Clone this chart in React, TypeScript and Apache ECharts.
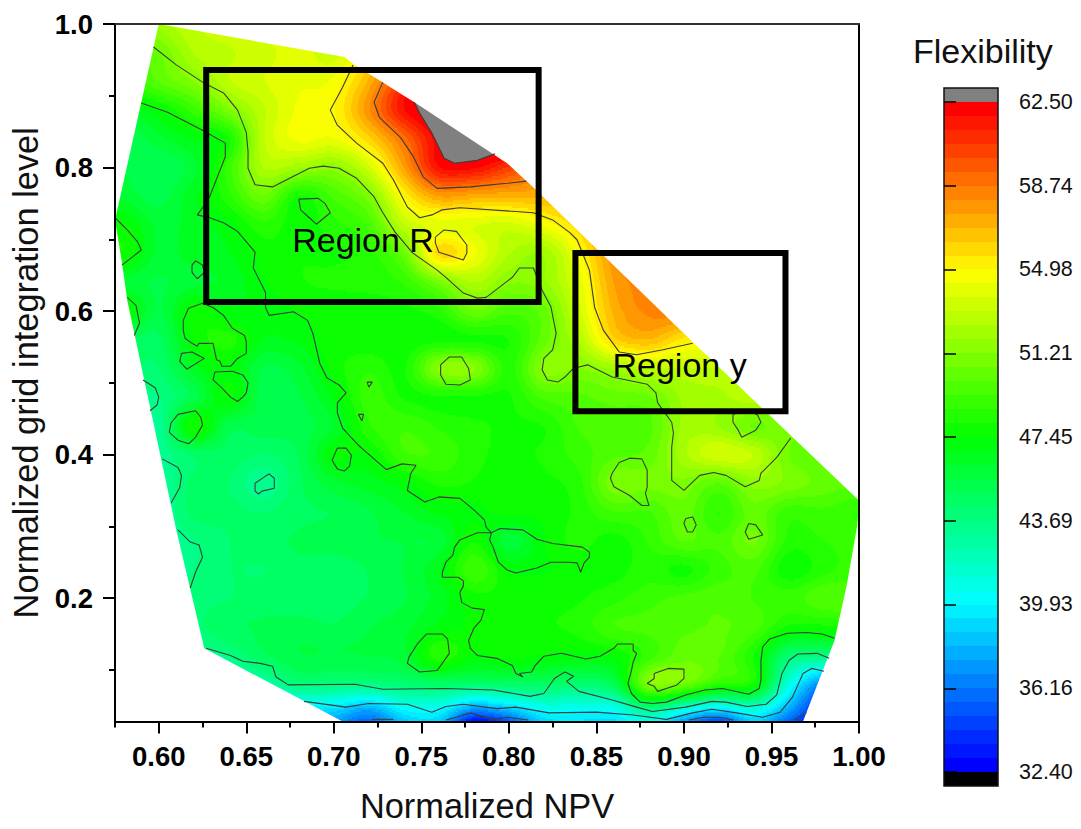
import React, { useEffect, useRef } from "react";
import * as echarts from "echarts";

const FONT = "'Liberation Sans', Arial, sans-serif";
const gridX = [0.58, 0.6, 0.62, 0.64, 0.66, 0.68, 0.7, 0.72, 0.74, 0.76, 0.78, 0.8, 0.82, 0.84, 0.86, 0.88, 0.9, 0.92, 0.94, 0.96, 0.98, 1.0];
const gridY = [1.0, 0.96, 0.92, 0.88, 0.84, 0.8, 0.76, 0.72, 0.68, 0.64, 0.6, 0.56, 0.52, 0.48, 0.44, 0.4, 0.36, 0.32, 0.28, 0.24, 0.2, 0.16, 0.12, 0.08, 0.04, 0.0];
const flexibility = [
  [50, 52, 53, 53.5, 54, 54, 54, 54, 56, 60, 63, 63, 63, 63, 60, 60, 58, 55, 52, 52, 52, 52],
  [49.5, 50.5, 52.5, 53, 53.5, 54, 53.5, 55.5, 59, 62, 63, 63, 63, 63, 60, 60, 58, 55, 52, 52, 52, 52],
  [48.5, 50, 51.2, 53, 53.7, 54.2, 54.5, 57, 61, 64, 64, 64, 63, 63, 60, 60, 58, 55, 52, 52, 52, 52],
  [46.5, 47.4, 49, 51, 53, 54.5, 54.9, 58, 61.8, 63.5, 64, 64, 63, 63, 60, 60, 58, 55, 52, 52, 52, 52],
  [45, 46, 47, 48, 53, 54.5, 54.3, 56, 59, 62.4, 64, 64, 63, 60, 60, 60, 58, 55, 52, 52, 52, 52],
  [45.5, 45, 46, 49, 52.5, 52, 51.5, 53.5, 57.5, 61.8, 62, 60.5, 59, 58, 58, 58, 58, 56, 54, 52, 50, 50],
  [46, 45.3, 46.7, 48.5, 50.5, 48, 49.5, 51, 55, 57.5, 57.2, 57, 57, 57, 58, 58, 58, 56, 54, 52, 50, 50],
  [47.6, 46, 46.5, 47.2, 48.5, 47.7, 48.5, 49.5, 53, 54, 53.8, 53.5, 54.5, 56, 58, 58, 58, 56, 54, 52, 50, 50],
  [48, 46, 46.5, 46.8, 47.8, 48, 48, 48.5, 50.5, 55.8, 54.5, 52.5, 52, 54.7, 58, 59, 59, 57, 55, 52, 50, 50],
  [46, 45.5, 46, 46.4, 47.4, 48, 48.2, 48.3, 48.8, 50.8, 52.5, 51.3, 51.7, 54, 57.5, 58.5, 59, 57, 55, 52, 50, 50],
  [47.8, 45.5, 47.8, 47, 47, 47.5, 47.6, 47.7, 47.9, 48.5, 50.5, 49.5, 50.3, 53.5, 57, 58.3, 58.5, 58, 55, 52, 50, 50],
  [45, 44.8, 47.5, 48.3, 46.8, 47, 47.8, 47.6, 47.7, 47.9, 48, 48.1, 50.3, 52.5, 56, 56.8, 55.4, 55, 54, 52, 50, 50],
  [44.5, 44.3, 46.5, 47.3, 45.5, 46, 47.7, 48.6, 48, 51.3, 51.3, 48.5, 51.4, 51.2, 52, 53, 53, 53, 52, 52, 50, 50],
  [43.5, 43.7, 45.3, 47.5, 45.3, 45.5, 47, 49, 48, 48, 48, 48, 49.5, 49.8, 50.3, 50.5, 52, 52.3, 52.8, 52, 50, 50],
  [43, 43.2, 48, 45.3, 45.3, 45.3, 46.2, 48.6, 49.2, 48.6, 48.2, 48, 48.1, 49.4, 49.5, 49.8, 52, 51.8, 50.5, 51, 50, 50],
  [43, 43.3, 44.5, 44.7, 44.3, 45, 47.4, 47.4, 49.2, 49.2, 48.3, 47.9, 48.2, 49, 49.8, 50.2, 52.3, 53.6, 53, 50.6, 50, 50],
  [43, 43, 44.5, 44.3, 43.2, 44.8, 46, 46.5, 47.2, 48.2, 48, 47.6, 47.9, 48.5, 51, 50.8, 51, 50, 51.5, 51, 50.3, 50],
  [43, 43, 44.5, 44.5, 44.3, 44.8, 45, 45.5, 46.2, 47, 47.3, 47.6, 47.6, 48.3, 49.3, 49.3, 50.3, 48.7, 50.3, 49, 49.2, 48.7],
  [43, 43, 43.7, 44.3, 44.8, 45, 45.3, 45.5, 45.6, 45.8, 48, 45.8, 47.4, 48.3, 47.8, 48.8, 50, 49.5, 50.7, 48.5, 48.7, 49],
  [43, 43, 43.7, 44.3, 44.3, 44.8, 44.5, 45, 45.6, 46.8, 49.2, 47.4, 47.4, 47.7, 47.8, 48.4, 47.9, 49, 49.5, 47.6, 48.5, 49],
  [43, 43, 44, 44.3, 44.7, 44.5, 44.6, 45, 45.5, 46.5, 47.8, 47.9, 47.8, 48, 48.5, 49.1, 49.5, 49.8, 49.3, 49, 49.8, 49.8],
  [43, 43, 44, 44.8, 45, 45.2, 45, 45.5, 46, 47, 47.6, 48, 48, 48.3, 49.3, 49.5, 49.8, 50, 49.6, 47.9, 47.9, 48],
  [43, 43, 43, 43.7, 44.8, 45.5, 45.5, 45.6, 46, 48.5, 47.3, 47.7, 47.4, 47.2, 47.5, 49, 50.3, 50, 48, 44.2, 43.8, 43],
  [40, 40, 40, 41.5, 42.5, 43.9, 43.8, 43.7, 44.1, 44.5, 44.2, 44.5, 44.6, 44.2, 45.2, 51, 50.5, 48.5, 47.8, 41, 36.5, 36],
  [39, 39, 39, 39, 39, 39, 38.5, 37, 39.5, 39.7, 36, 37.5, 39.9, 40, 40, 42.6, 39.8, 38, 40.3, 37, 33, 33],
  [37, 37, 37, 37, 37, 37, 36, 34, 36, 37, 26, 30, 37, 38, 38, 37, 33, 28, 36, 32, 31, 31],
];

const hull = [[0.6, 1], [0.706, 0.954], [0.712, 0.943], [0.746, 0.891], [0.792, 0.817], [0.799, 0.806], [0.814, 0.772], [0.905, 0.557], [1, 0.336], [0.999, 0.301], [0.993, 0.218], [0.986, 0.141], [0.968, 0.028], [0.705, 0.028], [0.626, 0.13], [0.61, 0.295], [0.582, 0.615], [0.579, 0.667], [0.575, 0.727]];
const above62 = [[0.746, 0.891], [0.749, 0.876], [0.756, 0.848], [0.763, 0.813], [0.769, 0.806], [0.782, 0.81], [0.792, 0.819]];

const openContours = [
  [[0.597, 0.968], [0.61, 0.943], [0.625, 0.919], [0.637, 0.904], [0.645, 0.88], [0.65, 0.849], [0.651, 0.822], [0.651, 0.799], [0.655, 0.776], [0.665, 0.773], [0.686, 0.799], [0.694, 0.802], [0.703, 0.799], [0.713, 0.785], [0.723, 0.759], [0.728, 0.737], [0.735, 0.71], [0.745, 0.681], [0.759, 0.657], [0.764, 0.647], [0.774, 0.625], [0.782, 0.618], [0.787, 0.619], [0.802, 0.647], [0.806, 0.66], [0.814, 0.66], [0.819, 0.629], [0.824, 0.606], [0.827, 0.569], [0.825, 0.546], [0.82, 0.534], [0.819, 0.518], [0.822, 0.504], [0.828, 0.501], [0.832, 0.508], [0.836, 0.518], [0.84, 0.522], [0.845, 0.525], [0.859, 0.508], [0.879, 0.498], [0.884, 0.486], [0.885, 0.472], [0.893, 0.445], [0.894, 0.43], [0.893, 0.41], [0.893, 0.364], [0.9, 0.35], [0.909, 0.371], [0.917, 0.375], [0.924, 0.371], [0.935, 0.355], [0.943, 0.364], [0.944, 0.374], [0.953, 0.396], [0.961, 0.423]],
  [[0.59, 0.89], [0.605, 0.877], [0.625, 0.852], [0.638, 0.834], [0.638, 0.815], [0.629, 0.759], [0.625, 0.744], [0.622, 0.734], [0.629, 0.73], [0.637, 0.723], [0.645, 0.711], [0.655, 0.682], [0.654, 0.66], [0.661, 0.626], [0.661, 0.605], [0.663, 0.594], [0.677, 0.599], [0.685, 0.587], [0.688, 0.569], [0.692, 0.527], [0.696, 0.507], [0.703, 0.497], [0.707, 0.486], [0.702, 0.472], [0.702, 0.458], [0.705, 0.437], [0.714, 0.413], [0.722, 0.396], [0.73, 0.379], [0.739, 0.387], [0.747, 0.385], [0.744, 0.374], [0.742, 0.35], [0.752, 0.334], [0.76, 0.341], [0.772, 0.339], [0.78, 0.323], [0.786, 0.309], [0.787, 0.299], [0.79, 0.291], [0.782, 0.291], [0.772, 0.281], [0.769, 0.271], [0.768, 0.26], [0.764, 0.25], [0.762, 0.236], [0.762, 0.229], [0.771, 0.229], [0.774, 0.224], [0.774, 0.217], [0.772, 0.208], [0.773, 0.194], [0.779, 0.186], [0.786, 0.184], [0.784, 0.169], [0.78, 0.158], [0.777, 0.141], [0.778, 0.13], [0.782, 0.12], [0.793, 0.116], [0.802, 0.106], [0.804, 0.095], [0.808, 0.09], [0.806, 0.095], [0.813, 0.097], [0.815, 0.106], [0.82, 0.119], [0.83, 0.123], [0.844, 0.115], [0.852, 0.119], [0.86, 0.13], [0.862, 0.136], [0.871, 0.136], [0.871, 0.127], [0.873, 0.123], [0.871, 0.111], [0.87, 0.099], [0.868, 0.081], [0.87, 0.067], [0.875, 0.055], [0.882, 0.053], [0.89, 0.055], [0.901, 0.065], [0.912, 0.072], [0.922, 0.074], [0.937, 0.066], [0.943, 0.074], [0.944, 0.086], [0.944, 0.113], [0.945, 0.132], [0.949, 0.143], [0.959, 0.151], [0.97, 0.152], [0.979, 0.15], [0.986, 0.144]],
  [[0.711, 0.943], [0.705, 0.912], [0.698, 0.88], [0.702, 0.859], [0.713, 0.834], [0.728, 0.806], [0.734, 0.783], [0.742, 0.745], [0.749, 0.73], [0.756, 0.734], [0.762, 0.741], [0.772, 0.744], [0.814, 0.737], [0.825, 0.727], [0.835, 0.709], [0.839, 0.699], [0.846, 0.657], [0.849, 0.605], [0.854, 0.573], [0.863, 0.543], [0.873, 0.539], [0.888, 0.546], [0.905, 0.555]],
  [[0.728, 0.919], [0.723, 0.891], [0.726, 0.87], [0.738, 0.842], [0.745, 0.817], [0.751, 0.787], [0.759, 0.771], [0.778, 0.773], [0.799, 0.778], [0.81, 0.781]],
  [[0.746, 0.891], [0.749, 0.876], [0.756, 0.848], [0.763, 0.813], [0.769, 0.806], [0.782, 0.81], [0.792, 0.819]],
  [[0.627, 0.13], [0.641, 0.12], [0.648, 0.112], [0.658, 0.109], [0.665, 0.105], [0.667, 0.09], [0.674, 0.079], [0.712, 0.08], [0.728, 0.073], [0.764, 0.074], [0.791, 0.072], [0.812, 0.063], [0.82, 0.067], [0.826, 0.088], [0.832, 0.097], [0.837, 0.091], [0.833, 0.084], [0.84, 0.07], [0.859, 0.058], [0.873, 0.048], [0.882, 0.042], [0.901, 0.048], [0.916, 0.056], [0.924, 0.055], [0.936, 0.049], [0.947, 0.052], [0.953, 0.065], [0.956, 0.095], [0.96, 0.113], [0.965, 0.122], [0.976, 0.123], [0.983, 0.116]],
  [[0.683, 0.056], [0.707, 0.048], [0.72, 0.053], [0.742, 0.052], [0.756, 0.041], [0.764, 0.049], [0.774, 0.052], [0.793, 0.046], [0.804, 0.048], [0.823, 0.04], [0.85, 0.041], [0.871, 0.037], [0.89, 0.031], [0.905, 0.04], [0.916, 0.045], [0.93, 0.04], [0.945, 0.034], [0.955, 0.041], [0.962, 0.062], [0.968, 0.095], [0.973, 0.102], [0.98, 0.098]],
  [[0.764, 0.03], [0.77, 0.034], [0.778, 0.04], [0.791, 0.031], [0.799, 0.034], [0.811, 0.03]],
  [[0.903, 0.03], [0.911, 0.034], [0.92, 0.034], [0.928, 0.03]],
  [[0.963, 0.03], [0.97, 0.04]],
  [[0.722, 0.031], [0.734, 0.031]],
  [[0.575, 0.73], [0.582, 0.713], [0.588, 0.696], [0.59, 0.685], [0.579, 0.664]],
  [[0.582, 0.619], [0.587, 0.608], [0.589, 0.583], [0.586, 0.566]],
  [[0.591, 0.504], [0.598, 0.493], [0.6, 0.48], [0.599, 0.469], [0.595, 0.461]],
  [[0.602, 0.394], [0.611, 0.382], [0.613, 0.371], [0.612, 0.354], [0.607, 0.332]],
  [[0.611, 0.295], [0.618, 0.278], [0.623, 0.274], [0.625, 0.257], [0.621, 0.236], [0.618, 0.214]],
];
const closedContours = [
  [[0.79, 0.291], [0.795, 0.297], [0.808, 0.295], [0.816, 0.282], [0.825, 0.276], [0.842, 0.271], [0.846, 0.264], [0.846, 0.257], [0.843, 0.249], [0.841, 0.236], [0.839, 0.249], [0.834, 0.25], [0.824, 0.25], [0.816, 0.242], [0.804, 0.235], [0.799, 0.239], [0.794, 0.25], [0.791, 0.271], [0.789, 0.281]],
  [[0.68, 0.756], [0.691, 0.757], [0.695, 0.75], [0.698, 0.737], [0.69, 0.721], [0.686, 0.73], [0.681, 0.741]],
  [[0.621, 0.67], [0.625, 0.664], [0.626, 0.654], [0.622, 0.645], [0.619, 0.654], [0.619, 0.664]],
  [[0.625, 0.611], [0.617, 0.604], [0.614, 0.587], [0.614, 0.573], [0.615, 0.562], [0.619, 0.555], [0.622, 0.551], [0.623, 0.555], [0.631, 0.555], [0.633, 0.532], [0.635, 0.53], [0.636, 0.523], [0.641, 0.523], [0.645, 0.534], [0.65, 0.541], [0.65, 0.557], [0.649, 0.566], [0.642, 0.576], [0.637, 0.594], [0.631, 0.605]],
  [[0.613, 0.541], [0.619, 0.543], [0.626, 0.534], [0.616, 0.519], [0.612, 0.53]],
  [[0.632, 0.515], [0.642, 0.516], [0.648, 0.511], [0.651, 0.5], [0.65, 0.486], [0.648, 0.48], [0.645, 0.474], [0.641, 0.48], [0.636, 0.493], [0.631, 0.504]],
  [[0.611, 0.456], [0.621, 0.461], [0.624, 0.452], [0.625, 0.441], [0.621, 0.424], [0.617, 0.415], [0.611, 0.42], [0.606, 0.431], [0.607, 0.444]],
  [[0.655, 0.36], [0.661, 0.37], [0.663, 0.373], [0.666, 0.367], [0.666, 0.353], [0.659, 0.349], [0.657, 0.345], [0.655, 0.349]],
  [[0.702, 0.409], [0.707, 0.409], [0.71, 0.399], [0.709, 0.384], [0.706, 0.377], [0.702, 0.38], [0.699, 0.392]],
  [[0.719, 0.501], [0.722, 0.501], [0.72, 0.494]],
  [[0.714, 0.456], [0.717, 0.456], [0.716, 0.447]],
  [[0.761, 0.525], [0.766, 0.536], [0.773, 0.536], [0.777, 0.52], [0.778, 0.504], [0.772, 0.497], [0.764, 0.498], [0.761, 0.511]],
  [[0.758, 0.703], [0.763, 0.713], [0.77, 0.711], [0.776, 0.692], [0.776, 0.681], [0.774, 0.671], [0.76, 0.682], [0.758, 0.695]],
  [[0.932, 0.462], [0.928, 0.455], [0.928, 0.445], [0.931, 0.434], [0.933, 0.424], [0.941, 0.434], [0.944, 0.445], [0.942, 0.455], [0.937, 0.462]],
  [[0.859, 0.374], [0.863, 0.389], [0.869, 0.395], [0.876, 0.394], [0.879, 0.378], [0.879, 0.355], [0.878, 0.346], [0.88, 0.329], [0.876, 0.329], [0.869, 0.343], [0.86, 0.355], [0.858, 0.367]],
  [[0.901, 0.311], [0.905, 0.313], [0.907, 0.302], [0.905, 0.292], [0.902, 0.292], [0.9, 0.304]],
  [[0.937, 0.304], [0.941, 0.302], [0.945, 0.288], [0.937, 0.282], [0.935, 0.292]],
  [[0.883, 0.095], [0.891, 0.102], [0.9, 0.101], [0.9, 0.088], [0.896, 0.079], [0.885, 0.07], [0.883, 0.077], [0.879, 0.081], [0.883, 0.088]],
  [[0.753, 0.15], [0.762, 0.15], [0.765, 0.143], [0.766, 0.123], [0.759, 0.099], [0.749, 0.097], [0.742, 0.109], [0.743, 0.118], [0.748, 0.137]],
];

const regionNames = ["Region R", "Region y"];
const regionBoxes = [[0.6271, 0.9359, 0.817, 0.6125], [0.838, 0.681, 0.958, 0.4605]];
const regionLabelAt = [[0.7167, 0.699], [0.8975, 0.525]];

const xMajor = [0.6, 0.65, 0.7, 0.75, 0.8, 0.85, 0.9, 0.95, 1.0];
const xMinor = [0.575, 0.625, 0.675, 0.725, 0.775, 0.825, 0.875, 0.925, 0.975];
const yMajor = [0.2, 0.4, 0.6, 0.8, 1.0];
const yMinor = [0.1, 0.3, 0.5, 0.7, 0.9];
const scaleTicks = [32.4, 36.16, 39.93, 43.69, 47.45, 51.21, 54.98, 58.74, 62.5];

const SCALE_MIN = 32.4;
const SCALE_MAX = 62.5;
const BANDS = 48;
const STEP = (SCALE_MAX - SCALE_MIN) / BANDS;
const ramp = [[0, 0, 255], [0, 255, 255], [0, 255, 0], [255, 255, 0], [255, 0, 0]];
const bandColor = (i: number) => {
  const t = (i / (BANDS - 1)) * (ramp.length - 1);
  const k = Math.min(Math.floor(t), ramp.length - 2);
  const f = t - k;
  const c = ramp[k].map((a, n) => Math.round(a + (ramp[k + 1][n] - a) * f));
  return `rgb(${c[0]},${c[1]},${c[2]})`;
};
const bandColors = Array.from({ length: BANDS }, (_, i) => bandColor(i));
const bandOf = (v: number) => Math.max(0, Math.min(BANDS - 1, Math.floor((v - SCALE_MIN) / STEP)));

const cr = (a: number, b: number, c: number, d: number, t: number) =>
  0.5 * (2 * b + (c - a) * t + (2 * a - 5 * b + 4 * c - d) * t * t + (3 * b - a - 3 * c + d) * t * t * t);
const at = (j: number, i: number) =>
  flexibility[Math.max(0, Math.min(gridY.length - 1, j))][Math.max(0, Math.min(gridX.length - 1, i))];
const sample = (u: number, w: number) => {
  const i = Math.floor(u);
  const j = Math.floor(w);
  const fu = u - i;
  const fw = w - j;
  const row = (r: number) => cr(at(r, i - 1), at(r, i), at(r, i + 1), at(r, i + 2), fu);
  return cr(row(j - 1), row(j), row(j + 1), row(j + 2), fw);
};

const cells: number[][] = [];
for (let j = 0; j < gridY.length - 1; j++) {
  for (let i = 0; i < gridX.length - 1; i++) cells.push([gridX[i], gridY[j], flexibility[j][i], i, j]);
}

const renderCell = (params: any, api: any) => {
  const i = api.value(3);
  const j = api.value(4);
  const a = api.coord([gridX[i], gridY[j]]);
  const b = api.coord([gridX[i + 1], gridY[j + 1]]);
  const cs = params.coordSys;
  const left = i === 0 ? cs.x : Math.round(a[0]);
  const right = Math.round(b[0]);
  const top = Math.max(cs.y, Math.round(a[1]));
  const bottom = Math.min(Math.ceil(cs.y + cs.height), Math.round(b[1]));
  const children: any[] = [];
  for (let y = top; y < bottom; y += 2) {
    const h = Math.min(2, bottom - y);
    const w = j + (y + h / 2 - a[1]) / (b[1] - a[1]);
    let runStart = left;
    let runBand = -1;
    for (let x = left; x <= right; x++) {
      const band = x === right ? -2 : bandOf(sample(Math.max(0, i + (x + 0.5 - a[0]) / (b[0] - a[0])), w));
      if (band !== runBand) {
        if (runBand >= 0) {
          children.push({
            type: "rect",
            shape: { x: runStart, y, width: x - runStart, height: h },
            style: { fill: bandColors[runBand] },
            silent: true,
          });
        }
        runStart = x;
        runBand = band;
      }
    }
  }
  return { type: "group", children };
};

const xMin = 0.575;
const yMin = 0.028;
const maskPoints = [...hull, hull[0], [xMin, 1], [xMin, yMin], [1, yMin], [1, 1]];
const polygonSeries = (points: number[][], fill: string, z: number) => ({
  type: "custom",
  coordinateSystem: "cartesian2d",
  xAxisIndex: 0,
  yAxisIndex: 0,
  z,
  silent: true,
  data: [[0, 0]],
  encode: { x: 0, y: 1 },
  renderItem: (_: any, api: any) => ({
    type: "polygon",
    shape: { points: points.map((p) => api.coord(p)) },
    style: { fill },
  }),
});

const lineSeries = (pts: number[][]) => ({
  type: "line",
  xAxisIndex: 0,
  yAxisIndex: 0,
  data: pts,
  showSymbol: false,
  symbol: "none",
  silent: true,
  z: 6,
  lineStyle: { color: "#3c3c3c", width: 1.1 },
});

const makeOption = () => ({
  animation: false,
  backgroundColor: "#fff",
  title: {
    text: "Flexibility",
    left: 908,
    top: 29,
    textStyle: { fontFamily: FONT, fontSize: 34, fontWeight: "normal", color: "#111" },
  },
  grid: [
    { left: 115, top: 24, width: 744, height: 697.5, outerBoundsMode: "none" },
    { left: 944, top: 88, width: 54, height: 698, outerBoundsMode: "none" },
  ],
  xAxis: [
    {
      type: "value", gridIndex: 0, min: xMin, max: 1, z: 10, position: "bottom",
      name: "Normalized NPV", nameLocation: "center", nameGap: 67.5,
      nameTextStyle: { fontFamily: FONT, fontSize: 34.4, color: "#111" },
      axisLine: { lineStyle: { color: "#000", width: 2 } },
      axisTick: { length: 12, inside: false, customValues: xMajor, lineStyle: { color: "#000", width: 2 } },
      axisLabel: {
        customValues: xMajor, margin: 21, formatter: (v: number) => v.toFixed(2),
        fontFamily: FONT, fontSize: 27.5, fontWeight: "bold", color: "#000",
      },
      splitLine: { show: false },
    },
    {
      type: "value", gridIndex: 0, min: xMin, max: 1, z: 10, position: "bottom",
      axisLine: { show: false },
      axisTick: { length: 6, customValues: xMinor, lineStyle: { color: "#000", width: 2 } },
      axisLabel: { show: false },
      splitLine: { show: false },
    },
    {
      type: "value", gridIndex: 0, min: xMin, max: 1, z: 10, position: "top",
      axisLine: { lineStyle: { color: "#333", width: 2 } },
      axisTick: { show: false }, axisLabel: { show: false }, splitLine: { show: false },
    },
    { type: "value", gridIndex: 1, min: 0, max: 1, show: false },
  ],
  yAxis: [
    {
      type: "value", gridIndex: 0, min: yMin, max: 1, z: 10, position: "left",
      name: "Normalized grid integration level", nameLocation: "center", nameGap: 72,
      nameTextStyle: { fontFamily: FONT, fontSize: 34.4, color: "#111" },
      axisLine: { lineStyle: { color: "#000", width: 2 } },
      axisTick: { length: 12, customValues: yMajor, lineStyle: { color: "#000", width: 2 } },
      axisLabel: {
        customValues: yMajor, margin: 22, formatter: (v: number) => v.toFixed(1),
        fontFamily: FONT, fontSize: 27.5, fontWeight: "bold", color: "#000",
      },
      splitLine: { show: false },
    },
    {
      type: "value", gridIndex: 0, min: yMin, max: 1, z: 10, position: "left",
      axisLine: { show: false },
      axisTick: { length: 6, customValues: yMinor, lineStyle: { color: "#000", width: 2 } },
      axisLabel: { show: false },
      splitLine: { show: false },
    },
    {
      type: "value", gridIndex: 0, min: yMin, max: 1, z: 10, position: "right",
      axisLine: { lineStyle: { color: "#000", width: 2 } },
      axisTick: { show: false }, axisLabel: { show: false }, splitLine: { show: false },
    },
    {
      type: "value", gridIndex: 1, min: SCALE_MIN - STEP, max: SCALE_MAX + STEP, position: "right", z: 10,
      axisLine: { show: false },
      axisTick: { length: 12, customValues: scaleTicks, lineStyle: { color: "#000", width: 1.5 } },
      axisLabel: {
        customValues: scaleTicks, margin: 21, formatter: (v: number) => v.toFixed(2),
        fontFamily: FONT, fontSize: 21.5, color: "#111",
      },
      splitLine: { show: false },
    },
  ],
  series: [
    {
      type: "custom",
      coordinateSystem: "cartesian2d",
      xAxisIndex: 0,
      yAxisIndex: 0,
      z: 1,
      silent: true,
      progressive: 0,
      data: cells,
      encode: { x: 0, y: 1 },
      renderItem: renderCell,
    },
    polygonSeries(above62, "#808080", 2),
    polygonSeries(maskPoints, "#ffffff", 3),
    ...openContours.map(lineSeries),
    ...closedContours.map((c) => lineSeries([...c, c[0]])),
    {
      type: "custom",
      coordinateSystem: "cartesian2d",
      xAxisIndex: 0,
      yAxisIndex: 0,
      z: 8,
      silent: true,
      data: regionNames.map((_, k) => [regionBoxes[k][0], regionBoxes[k][1], k]),
      encode: { x: 0, y: 1 },
      renderItem: (_: any, api: any) => {
        const k = api.value(2);
        const [x0, y0, x1, y1] = regionBoxes[k];
        const p0 = api.coord([x0, y0]);
        const p1 = api.coord([x1, y1]);
        const t = api.coord(regionLabelAt[k]);
        return {
          type: "group",
          children: [
            {
              type: "rect",
              shape: { x: p0[0], y: p0[1], width: p1[0] - p0[0], height: p1[1] - p0[1] },
              style: { fill: "none", stroke: "#000", lineWidth: 6 },
            },
            {
              type: "text",
              x: t[0],
              y: t[1],
              style: {
                text: regionNames[k], fontFamily: FONT, fontSize: 34, fill: "#000",
                align: "center", verticalAlign: "middle",
              },
            },
          ],
        };
      },
    },
    {
      type: "custom",
      coordinateSystem: "cartesian2d",
      xAxisIndex: 3,
      yAxisIndex: 3,
      z: 5,
      silent: true,
      data: [[0, SCALE_MIN - STEP]],
      encode: { x: 0, y: 1 },
      renderItem: (_: any, api: any) => {
        const barRect = (lo: number, hi: number, fill: string) => {
          const a = api.coord([0, hi]);
          const b = api.coord([1, lo]);
          return {
            type: "rect",
            shape: { x: a[0], y: Math.round(a[1]), width: b[0] - a[0], height: Math.round(b[1]) - Math.round(a[1]) },
            style: { fill },
          };
        };
        const kids: any[] = [
          barRect(SCALE_MAX, SCALE_MAX + STEP, "#808080"),
          barRect(SCALE_MIN - STEP, SCALE_MIN, "#000000"),
        ];
        bandColors.forEach((c, i) => kids.push(barRect(SCALE_MIN + i * STEP, SCALE_MIN + (i + 1) * STEP, c)));
        const a = api.coord([0, SCALE_MAX + STEP]);
        const b = api.coord([1, SCALE_MIN - STEP]);
        kids.push({
          type: "rect",
          shape: { x: a[0], y: a[1], width: b[0] - a[0], height: b[1] - a[1] },
          style: { fill: "none", stroke: "#111", lineWidth: 1.5 },
        });
        return { type: "group", children: kids };
      },
    },
  ],
});

export default function App() {
  const ref = useRef<HTMLDivElement>(null);
  useEffect(() => {
    document.body.style.margin = "0";
    const chart = echarts.init(ref.current, undefined, { renderer: "svg" });
    chart.setOption(makeOption() as any);
    return () => chart.dispose();
  }, []);
  return <div ref={ref} style={{ width: 1081, height: 829 }} />;
}
